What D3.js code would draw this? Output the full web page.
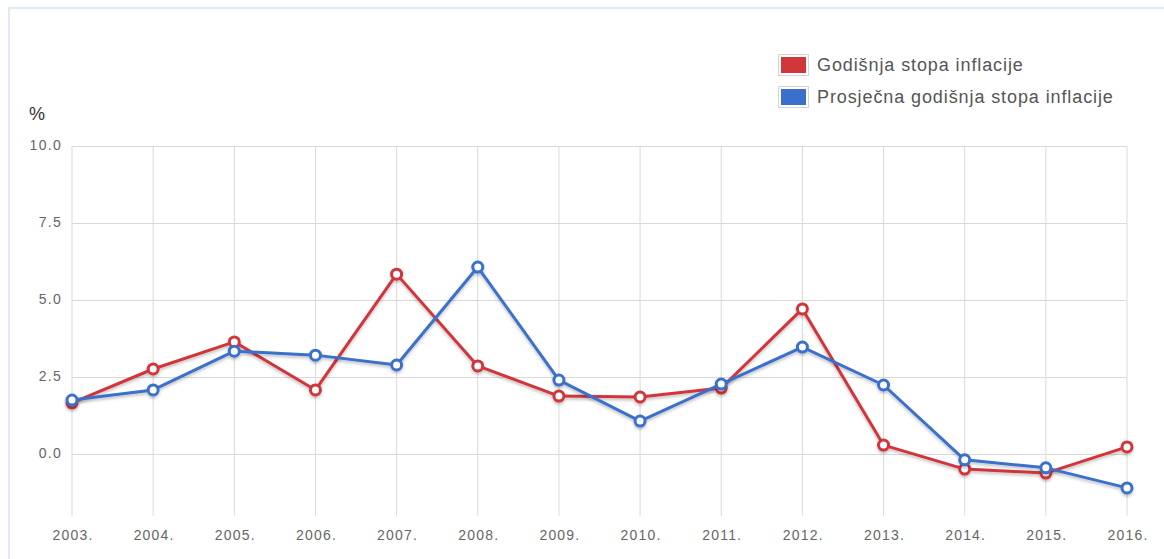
<!DOCTYPE html>
<html>
<head>
<meta charset="UTF-8">
<title>Inflacija</title>
<script src="https://cdn.jsdelivr.net/npm/d3@7"></script>
<style>
body { margin: 0; background: #fff; }
svg { display: block; font-family: "Liberation Sans", Arial, sans-serif; }
</style>
</head>
<body>
<svg class="chart" width="1164" height="559"></svg>
<script>
var years = ["2003.", "2004.", "2005.", "2006.", "2007.", "2008.", "2009.", "2010.", "2011.", "2012.", "2013.", "2014.", "2015.", "2016."];
var godisnja = [1.66, 2.76, 3.64, 2.08, 5.84, 2.86, 1.88, 1.85, 2.14, 4.71, 0.29, -0.49, -0.62, 0.23];
var prosjecna = [1.75, 2.08, 3.34, 3.21, 2.89, 6.07, 2.40, 1.07, 2.27, 3.47, 2.24, -0.19, -0.45, -1.10];
var yTicks = [0, 2.5, 5, 7.5, 10];

var series = [
  {name: "Godišnja stopa inflacije", color: "#d0363a", values: godisnja},
  {name: "Prosječna godišnja stopa inflacije", color: "#3a6fcb", values: prosjecna}
];

var svg = d3.select(".chart");

// frame
svg.append("path")
  .attr("d", "M9,560 V8 H1170")
  .attr("fill", "none")
  .attr("stroke", "#dfeaf6")
  .attr("stroke-width", 2);

var x = d3.scalePoint().domain(years).range([72, 1127]);
var y = d3.scaleLinear().domain([-2, 10]).range([515.6, 146]);

// grid
var g = svg.append("g");
g.selectAll(".vgrid").data(years).enter().append("line")
  .attr("x1", function(d){ return x(d); })
  .attr("x2", function(d){ return x(d); })
  .attr("y1", y(10))
  .attr("y2", y(-2))
  .attr("stroke", "#d9d9d9")
  .attr("stroke-width", 1);

g.selectAll(".hgrid").data(yTicks).enter().append("line")
  .attr("x1", 72)
  .attr("x2", 1127)
  .attr("y1", function(d){ return Math.round(y(d)) + 0.5; })
  .attr("y2", function(d){ return Math.round(y(d)) + 0.5; })
  .attr("stroke", "#d9d9d9")
  .attr("stroke-width", 1);

// y labels
g.selectAll(".ylab").data(yTicks).enter().append("text")
  .attr("x", 62)
  .attr("y", function(d){ return y(d) + 3.5; })
  .attr("text-anchor", "end")
  .attr("font-size", 14)
  .attr("letter-spacing", 1.3)
  .attr("fill", "#666")
  .text(function(d){ return d3.format(".1f")(d); });

// x labels
g.selectAll(".xlab").data(years).enter().append("text")
  .attr("x", function(d){ return x(d) + 1; })
  .attr("y", 540)
  .attr("text-anchor", "middle")
  .attr("font-size", 14)
  .attr("letter-spacing", 1.2)
  .attr("fill", "#666")
  .text(function(d){ return d; });

svg.append("text")
  .attr("x", 29)
  .attr("y", 120)
  .attr("font-size", 18)
  .attr("fill", "#333")
  .text("%");

// shadow
var defs = svg.append("defs");
var f = defs.append("filter").attr("id", "shadow").attr("x", "-5%").attr("y", "-5%").attr("width", "110%").attr("height", "120%");
f.append("feDropShadow").attr("dx", 0).attr("dy", 2).attr("stdDeviation", 1.5).attr("flood-color", "#000").attr("flood-opacity", 0.25);

var line = d3.line()
  .x(function(d, i){ return x(years[i]); })
  .y(function(d){ return y(d); });

series.forEach(function(s){
  var sg = svg.append("g").attr("filter", "url(#shadow)");
  sg.append("path")
    .attr("d", line(s.values))
    .attr("fill", "none")
    .attr("stroke", s.color)
    .attr("stroke-width", 3)
    .attr("stroke-linejoin", "round");
  sg.selectAll("circle").data(s.values).enter().append("circle")
    .attr("cx", function(d, i){ return x(years[i]); })
    .attr("cy", function(d){ return y(d); })
    .attr("r", 5)
    .attr("fill", "#fff")
    .attr("stroke", s.color)
    .attr("stroke-width", 3);
});

// legend
var leg = svg.append("g");
series.forEach(function(s, i){
  var ly = 54 + i * 32;
  leg.append("rect")
    .attr("x", 778.5).attr("y", ly + 0.5)
    .attr("width", 30).attr("height", 21)
    .attr("fill", "#fff").attr("stroke", "#d4d4d4");
  leg.append("rect")
    .attr("x", 781).attr("y", ly + 3)
    .attr("width", 25).attr("height", 16)
    .attr("fill", s.color);
  leg.append("text")
    .attr("x", 817)
    .attr("y", ly + 17)
    .attr("font-size", 18)
    .attr("letter-spacing", 0.9)
    .attr("fill", "#555")
    .text(s.name);
});
</script>
</body>
</html>
